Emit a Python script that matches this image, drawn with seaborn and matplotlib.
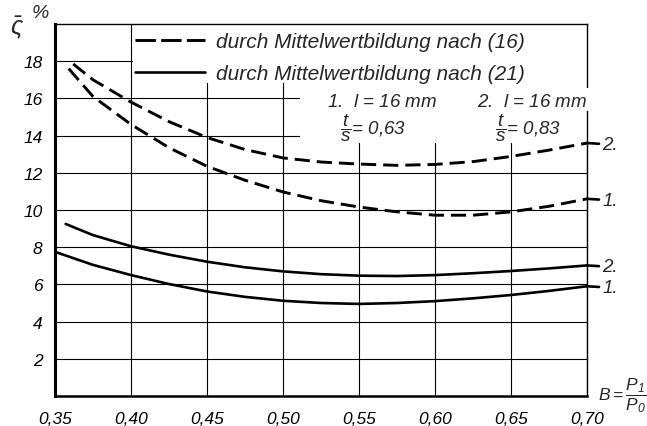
import matplotlib
matplotlib.use("Agg")
import matplotlib.pyplot as plt
from matplotlib.lines import Line2D
from matplotlib.patches import Rectangle
import seaborn as sns
import pandas as pd

# Load ratio B = P1/P0
b_dash2 = [0.362, 0.375, 0.40, 0.425, 0.45, 0.475, 0.50, 0.525, 0.55, 0.575, 0.60, 0.625, 0.65, 0.675, 0.70]
s_dash2 = [17.85, 17.0, 15.8, 14.75, 13.9, 13.25, 12.8, 12.58, 12.47, 12.4, 12.45, 12.6, 12.88, 13.22, 13.6]

b_dash1 = [0.359, 0.375, 0.40, 0.425, 0.45, 0.475, 0.50, 0.525, 0.55, 0.575, 0.60, 0.625, 0.65, 0.675, 0.70]
s_dash1 = [17.6, 16.1, 14.6, 13.35, 12.35, 11.6, 10.97, 10.5, 10.16, 9.9, 9.72, 9.72, 9.9, 10.2, 10.6]

b_solid2 = [0.357, 0.375, 0.40, 0.425, 0.45, 0.475, 0.50, 0.525, 0.55, 0.575, 0.60, 0.625, 0.65, 0.675, 0.70]
s_solid2 = [9.25, 8.65, 8.05, 7.6, 7.22, 6.92, 6.7, 6.55, 6.47, 6.45, 6.5, 6.6, 6.72, 6.86, 7.02]

b_solid1 = [0.35, 0.375, 0.40, 0.425, 0.45, 0.475, 0.50, 0.525, 0.55, 0.575, 0.60, 0.625, 0.65, 0.675, 0.70]
s_solid1 = [7.75, 7.05, 6.5, 6.02, 5.62, 5.33, 5.12, 5.0, 4.95, 5.0, 5.1, 5.25, 5.43, 5.65, 5.9]

curve_names = ["2.", "1.", "2.", "1."]
methods = ["(16)", "(16)", "(21)", "(21)"]

x_ticks = [0.35, 0.40, 0.45, 0.50, 0.55, 0.60, 0.65, 0.70]
x_ticklabels = ["0,35", "0,40", "0,45", "0,50", "0,55", "0,60", "0,65", "0,70"]
y_ticks = [2, 4, 6, 8, 10, 12, 14, 16, 18]

legend_labels = ["durch Mittelwertbildung nach (16)", "durch Mittelwertbildung nach (21)"]

frames = []
for i, (bx, sy) in enumerate([(b_dash2, s_dash2), (b_dash1, s_dash1),
                              (b_solid2, s_solid2), (b_solid1, s_solid1)]):
    frames.append(pd.DataFrame({"B": bx, "S": sy, "curve": i,
                                "name": curve_names[i], "method": methods[i]}))
df = pd.concat(frames, ignore_index=True)

sns.set_theme(style="white")
plt.rcParams["font.family"] = ["Liberation Sans", "DejaVu Sans"]
plt.rcParams["font.style"] = "italic"
plt.rcParams["mathtext.fontset"] = "custom"
plt.rcParams["mathtext.it"] = "Liberation Sans:italic"
plt.rcParams["mathtext.rm"] = "Liberation Sans:italic"
plt.rcParams["mathtext.default"] = "it"

fig = plt.figure(figsize=(6.47, 4.27), dpi=100)
ax = fig.add_axes([55 / 647, 1 - 397 / 427, 532 / 647, 372 / 427])

dash_style = (0, (5.2, 2.4))
for i in range(4):
    sub = df[df["curve"] == i]
    dashed = sub["method"].iloc[0] == "(16)"
    sns.lineplot(data=sub, x="B", y="S", ax=ax, color="black", estimator=None,
                 sort=True, lw=2.1 if dashed else 1.9,
                 linestyle=dash_style if dashed else "-", zorder=3, legend=False)
    last_b = sub["B"].iloc[-1]
    last_s = sub["S"].iloc[-1]
    ax.annotate(sub["name"].iloc[0], xy=(last_b, last_s), xytext=(11, -1),
                textcoords="offset points", ha="left", va="center", fontsize=13.5,
                annotation_clip=False,
                arrowprops=dict(arrowstyle="-", lw=1.9, color="black",
                                shrinkA=0, shrinkB=0))

ax.set_xlim(0.35, 0.70)
ax.set_ylim(0, 20)
ax.set_xticks(x_ticks)
ax.set_xticklabels(x_ticklabels)
ax.set_yticks(y_ticks)
ax.set_yticklabels([str(v) for v in y_ticks])
ax.tick_params(axis="both", length=0, labelsize=12.5, colors="black")
ax.tick_params(axis="x", pad=11)
ax.tick_params(axis="y", pad=9)
ax.set_xlabel("")
ax.set_ylabel("")

ax.grid(True, color="black", lw=0.8)
ax.set_axisbelow(True)

for side, lw in [("left", 2.2), ("bottom", 1.8), ("top", 1.0), ("right", 1.0)]:
    ax.spines[side].set_visible(True)
    ax.spines[side].set_color("black")
    ax.spines[side].set_linewidth(lw)

# clear the gridlines behind the legend and the parameter notes
ax.add_patch(Rectangle((0.4012, 16.85), 0.70 - 0.4012, 3.15, facecolor="white",
                       edgecolor="none", zorder=1.5))
ax.add_patch(Rectangle((0.511, 13.6), 0.70 - 0.511, 3.3, facecolor="white",
                       edgecolor="none", zorder=1.5))
ax.add_patch(Rectangle((0.6985, 15.3), 0.006, 1.25, facecolor="white",
                       edgecolor="none", zorder=2.6, clip_on=False))

handles = [Line2D([], [], color="black", lw=2.1, linestyle=(0, (7.0, 1.8))),
           Line2D([], [], color="black", lw=1.9)]
ax.legend(handles, legend_labels, loc="upper left", bbox_to_anchor=(0.1345, 1.0),
          frameon=False, fontsize=15, handlelength=3.37, handletextpad=0.53,
          labelspacing=0.6, borderaxespad=0.2, borderpad=0.2)

# parameter notes for the curve numbers
ax.text(0.529, 15.86, "1.  $l$ = 16 mm", fontsize=13.5, ha="left", va="center")
ax.text(0.5375, 14.46, r"$\dfrac{t}{s}$= 0,63", fontsize=13.5, ha="left", va="center")
ax.text(0.6276, 15.86, "2.  $l$ = 16 mm", fontsize=13.5, ha="left", va="center")
ax.text(0.6395, 14.46, r"$\dfrac{t}{s}$= 0,83", fontsize=13.5, ha="left", va="center")

# axis captions
fig.text(17 / 647, 1 - 28 / 427, r"$\bar{\varsigma}$", fontsize=18, ha="center", va="center")
fig.text(40 / 647, 1 - 14 / 427, "%", fontsize=14, ha="center", va="center")
ax.text(1.02, 0.005, r"$B=\dfrac{P_1}{P_0}$", transform=ax.transAxes, fontsize=12.5,
        ha="left", va="center")

fig.savefig("out.png", dpi=100)
